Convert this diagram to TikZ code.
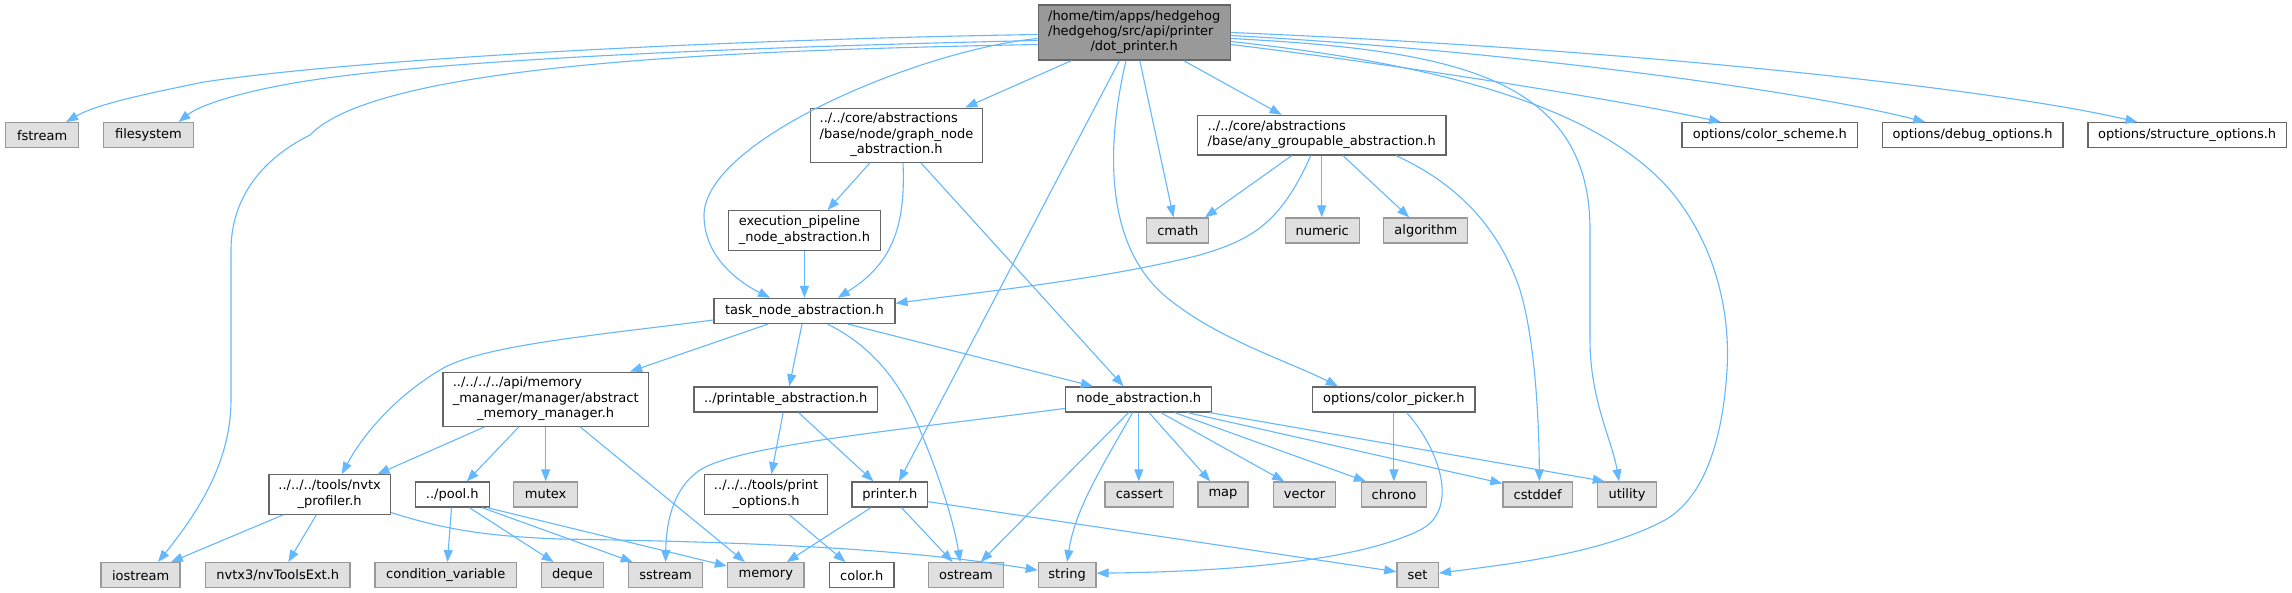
\documentclass[tikz,border=0pt]{standalone}
\usepackage{fontspec}
\setmainfont{DejaVu Sans}
\usetikzlibrary{arrows.meta,calc}
\definecolor{edgeblue}{HTML}{63B8FF}
\definecolor{boxgray}{HTML}{666666}
\definecolor{sysfill}{HTML}{E0E0E0}
\definecolor{sysdraw}{HTML}{999999}
\definecolor{mainfill}{HTML}{999999}
\newcommand{\mlab}[2]{\begin{tabular}{@{}l@{}}#1\\\multicolumn{1}{@{}c@{}}{#2}\end{tabular}}
\begin{document}
\begin{tikzpicture}[x=1pt,y=-1pt,
  base/.style={draw, line width=1.3pt, inner sep=0pt, minimum height=25pt, font=\fontsize{13}{15.3}\selectfont, text=black},
  hdr/.style={base, draw=boxgray, fill=white},
  sys/.style={base, draw=sysdraw, fill=sysfill},
  mainbox/.style={base, draw=boxgray, fill=mainfill},
  edge/.style={draw=edgeblue, line width=1.1pt, -{Triangle[length=12pt,width=9pt]}},
]
\fill[white] (0,0) rectangle (2292,593);
\useasboundingbox (0,0) rectangle (2292,593);

% row 0
\node[mainbox, minimum width=192pt, minimum height=55pt] (dp) at (1134.2,32.5) {\mlab{/home/tim/apps/hedgehog\\/hedgehog/src/api/printer}{/dot\_printer.h}};
% row 1
\node[sys, minimum width=73pt] (fstream) at (42.1,135.2) {fstream};
\node[sys, minimum width=90pt] (filesystem) at (148.5,135.2) {filesystem};
\node[hdr, minimum width=172.5pt, minimum height=54pt] (gn) at (896.5,135.2) {\mlab{../../core/abstractions\\/base/node/graph\_node}{\_abstraction.h}};
\node[hdr, minimum width=248.5pt, minimum height=39.5pt] (ag) at (1321.7,135.2) {\mlab{../../core/abstractions}{/base/any\_groupable\_abstraction.h}};
\node[hdr, minimum width=175.7pt] (cscheme) at (1769.9,135.2) {options/color\_scheme.h};
\node[hdr, minimum width=180.5pt] (dbgopt) at (1972.6,135.2) {options/debug\_options.h};
\node[hdr, minimum width=198.2pt] (structopt) at (2187.1,135.2) {options/structure\_options.h};
% row 2
\node[hdr, minimum width=152.5pt, minimum height=39.5pt] (ep) at (804.4,230.5) {\mlab{execution\_pipeline}{\_node\_abstraction.h}};
\node[sys, minimum width=62pt] (cmath) at (1177.8,230.5) {cmath};
\node[sys, minimum width=74pt] (numeric) at (1322.2,230.5) {numeric};
\node[sys, minimum width=84pt] (algorithm) at (1425.8,230.5) {algorithm};
% row 3
\node[hdr, minimum width=181pt] (tn) at (804.4,311) {task\_node\_abstraction.h};
% row 4
\node[hdr, minimum width=205.7pt, minimum height=54pt] (amm) at (545.7,399.2) {\mlab{../../../../api/memory\\\_manager/manager/abstract}{\_memory\_manager.h}};
\node[hdr, minimum width=183.6pt] (pa) at (785.7,399.4) {../printable\_abstraction.h};
\node[hdr, minimum width=146pt] (na) at (1138.8,399.4) {node\_abstraction.h};
\node[hdr, minimum width=162.3pt] (cp) at (1393.9,399.4) {options/color\_picker.h};
% row 5
\node[hdr, minimum width=121.4pt, minimum height=39.5pt] (nvtx) at (329.6,494.5) {\mlab{../../../tools/nvtx}{\_profiler.h}};
\node[hdr, minimum width=74pt] (pool) at (452.3,494.5) {../pool.h};
\node[sys, minimum width=64pt] (mutex) at (545.7,494.5) {mutex};
\node[hdr, minimum width=123pt, minimum height=39.5pt] (po) at (766.1,494.5) {\mlab{../../../tools/print}{\_options.h}};
\node[hdr, minimum width=75.6pt] (printer) at (889.8,494.5) {printer.h};
\node[sys, minimum width=68.4pt] (cassert) at (1139.3,494.5) {cassert};
\node[sys, minimum width=50pt] (map) at (1223,494.5) {map};
\node[sys, minimum width=62.2pt] (vector) at (1304.6,494.5) {vector};
\node[sys, minimum width=65.3pt] (chrono) at (1393.9,494.5) {chrono};
\node[sys, minimum width=69.5pt] (cstddef) at (1537.7,494.5) {cstddef};
\node[sys, minimum width=59.3pt] (utility) at (1627,494.5) {utility};
% row 6
\node[sys, minimum width=79pt] (iostream) at (140.6,575.2) {iostream};
\node[sys, minimum width=144.4pt] (nvtxthree) at (277.8,575.2) {nvtx3/nvToolsExt.h};
\node[sys, minimum width=141.3pt] (condvar) at (445.7,575.2) {condition\_variable};
\node[sys, minimum width=62.3pt] (deque) at (572.5,575.2) {deque};
\node[sys, minimum width=74pt] (sstream) at (665.6,575.2) {sstream};
\node[sys, minimum width=76.6pt] (memory) at (765.8,575.2) {memory};
\node[hdr, minimum width=64.3pt] (colorh) at (861.8,575.2) {color.h};
\node[sys, minimum width=75.5pt] (ostream) at (965.9,575.2) {ostream};
\node[sys, minimum width=57.6pt] (string) at (1067.1,575.2) {string};
\node[sys, minimum width=41.4pt] (set) at (1417.6,575.2) {set};

% edges from dot_printer.h
\draw[edge] ($(dp.west)+(0,2)$) .. controls (700,40) and (350,60) .. (204,82) .. controls (140,95) and (95,105) .. ($(fstream.north)+(24,0)$);
\draw[edge] ($(dp.west)+(0,8)$) .. controls (700,48) and (420,62) .. (300,82) .. controls (240,92) and (200,105) .. ($(filesystem.north)+(30,0)$);
\draw[edge] ($(dp.west)+(0,12)$) .. controls (750,50) and (380,62) .. (310,135) .. controls (250,165) and (231,210) .. (231,250) -- (231,400) .. controls (231,460) and (200,510) .. ($(iostream.north)+(17.4,0)$);
\draw[edge] ($(dp.west)+(0,6)$) .. controls (920,50) and (705,140) .. (704,215) .. controls (704,255) and (735,280) .. ($(tn.north)+(-34.4,0)$);
\draw[edge] ($(dp.south)+(-62.8,0)$) -- ($(gn.north)+(68.8,0)$);
\draw[edge] ($(dp.south)+(-14.8,0)$) -- ($(printer.north)+(9.2,0)$);
\draw[edge] ($(dp.south)+(-8.2,0)$) .. controls (1105,150) and (1105,250) .. (1170,300) .. controls (1220,340) and (1290,362) .. ($(cp.north)+(-56,0)$);
\draw[edge] ($(dp.south)+(5.6,0)$) -- ($(cmath.north)+(-4.3,0)$);
\draw[edge] ($(dp.south)+(49.5,0)$) -- ($(ag.north)+(-40.1,0)$);
\draw[edge] ($(dp.east)+(0,0)$) .. controls (1650,50) and (2000,90) .. ($(structopt.north)+(-49.7,0)$);
\draw[edge] ($(dp.east)+(0,3)$) .. controls (1500,50) and (1800,90) .. ($(dbgopt.north)+(-47.3,0)$);
\draw[edge] ($(dp.east)+(0,12)$) .. controls (1400,65) and (1620,100) .. ($(cscheme.north)+(-48.9,0)$);
\draw[edge] ($(dp.east)+(0,6)$) .. controls (1450,50) and (1590,75) .. (1590,230) -- (1590,340) .. controls (1590,400) and (1612,440) .. ($(utility.north)+(-8,0)$);
\draw[edge] ($(dp.east)+(0,9)$) .. controls (1450,65) and (1600,110) .. (1670,190) .. controls (1720,250) and (1730,320) .. (1727,370) .. controls (1722,450) and (1700,500) .. (1665,520) .. controls (1600,555) and (1500,565) .. ($(set.east)+(0,-2)$);

% graph_node_abstraction.h
\draw[edge] ($(gn.south)+(-26.6,0)$) -- ($(ep.north)+(23.2,0)$);
\draw[edge] ($(gn.south)+(6.5,0)$) .. controls (906,230) and (890,265) .. ($(tn.north)+(33.4,0)$);
\draw[edge] ($(gn.south)+(24.4,0)$) -- ($(na.north)+(-15.3,0)$);
\draw[edge] (ep.south) -- (tn.north);

% any_groupable_abstraction.h
\draw[edge] ($(ag.south)+(-29.9,0)$) -- ($(cmath.north)+(27.2,0)$);
\draw[edge] ($(ag.south)+(-11,0)$) .. controls (1280,225) and (1250,240) .. (1200,255) .. controls (1100,280) and (980,292) .. ($(tn.east)+(0,-7.7)$);
\draw[edge] (ag.south) -- (ag.south |- numeric.north);
\draw[edge] ($(ag.south)+(21.2,0)$) -- ($(algorithm.north)+(-16.6,0)$);
\draw[edge] ($(ag.south)+(74.3,0)$) .. controls (1460,185) and (1500,230) .. (1520,290) .. controls (1535,340) and (1539,420) .. ($(cstddef.north)+(1.7,0)$);

% task_node_abstraction.h
\draw[edge] ($(tn.west)+(0,9)$) .. controls (600,335) and (480,345) .. (440,370) .. controls (390,400) and (360,440) .. ($(nvtx.north)+(12.2,0)$);
\draw[edge] ($(tn.south)+(-36.5,0)$) -- ($(amm.north)+(84.4,0)$);
\draw[edge] ($(tn.south)+(-2.4,0)$) -- ($(pa.north)+(3.6,0)$);
\draw[edge] ($(tn.south)+(23.2,0)$) .. controls (870,345) and (900,380) .. (920,430) .. controls (945,490) and (955,530) .. ($(ostream.north)+(-5.7,0)$);
\draw[edge] ($(tn.south)+(43.6,0)$) -- ($(na.north)+(-45.9,0)$);

% abstract_memory_manager.h
\draw[edge] ($(amm.south)+(-61,0)$) -- ($(nvtx.north)+(48,0)$);
\draw[edge] ($(amm.south)+(-26.8,0)$) -- ($(pool.north)+(14.5,0)$);
\draw[edge] (amm.south) -- (mutex.north);
\draw[edge] ($(amm.south)+(34.4,0)$) -- ($(memory.north)+(-20.9,0)$);

% nvtx_profiler.h
\draw[edge] ($(nvtx.south)+(-46.4,0)$) -- ($(iostream.north)+(30.3,0)$);
\draw[edge] ($(nvtx.south)+(-13.3,0)$) -- ($(nvtxthree.north)+(10.5,0)$);
\draw[edge] ($(nvtx.east)+(0,18)$) .. controls (440,528) and (480,536) .. (560,539) .. controls (750,542) and (900,548) .. ($(string.west)+(0,-5)$);

% pool.h
\draw[edge] ($(pool.south)+(-0.8,0)$) -- ($(condvar.north)+(1.7,0)$);
\draw[edge] ($(pool.south)+(17.1,0)$) -- ($(deque.north)+(-18.9,0)$);
\draw[edge] ($(pool.south)+(29.8,0)$) -- ($(sstream.north)+(-32.9,0)$);
\draw[edge] ($(pool.south)+(34.9,0)$) -- ($(memory.north west)+(0,4)$);

% printable_abstraction.h, print_options.h
\draw[edge] ($(pa.south)+(-2.5,0)$) -- ($(po.north)+(5.3,0)$);
\draw[edge] ($(pa.south)+(12.8,0)$) -- ($(printer.north)+(-16.3,0)$);
\draw[edge] ($(po.south)+(23.2,0)$) -- ($(colorh.north)+(-16.4,0)$);

% printer.h
\draw[edge] ($(printer.south)+(-18.9,0)$) -- ($(memory.north)+(20.9,0)$);
\draw[edge] ($(printer.south)+(11.7,0)$) -- ($(ostream.north)+(-13.3,0)$);
\draw[edge] ($(printer.east)+(0,7.2)$) -- ($(set.west)+(0,-3.5)$);

% node_abstraction.h
\draw[edge] ($(na.west)+(0,9)$) .. controls (900,430) and (740,445) .. (700,470) .. controls (670,490) and (666,530) .. (sstream.north);
\draw[edge] ($(na.south)+(-10.2,0)$) -- ($(ostream.north)+(14.7,0)$);
\draw[edge] ($(na.south)+(-6.1,0)$) .. controls (1100,470) and (1075,510) .. (string.north);
\draw[edge] (na.south) -- (na.south |- cassert.north);
\draw[edge] ($(na.south)+(10.2,0)$) -- ($(map.north)+(-12.8,0)$);
\draw[edge] ($(na.south)+(21.9,0)$) -- ($(vector.north)+(-20.4,0)$);
\draw[edge] ($(na.south)+(35.7,0)$) -- ($(chrono.north)+(-28.1,0)$);
\draw[edge] ($(na.south)+(48.4,0)$) -- ($(cstddef.north west)+(0,2)$);
\draw[edge] ($(na.south east)+(-3,0)$) -- ($(utility.north)+(-22.2,0)$);

% color_picker.h
\draw[edge] (cp.south) -- (cp.south |- chrono.north);
\draw[edge] ($(cp.south)+(12.7,0)$) .. controls (1440,450) and (1460,510) .. (1420,530) .. controls (1350,565) and (1200,572) .. ($(string.east)+(0,-2)$);
\end{tikzpicture}
\end{document}
